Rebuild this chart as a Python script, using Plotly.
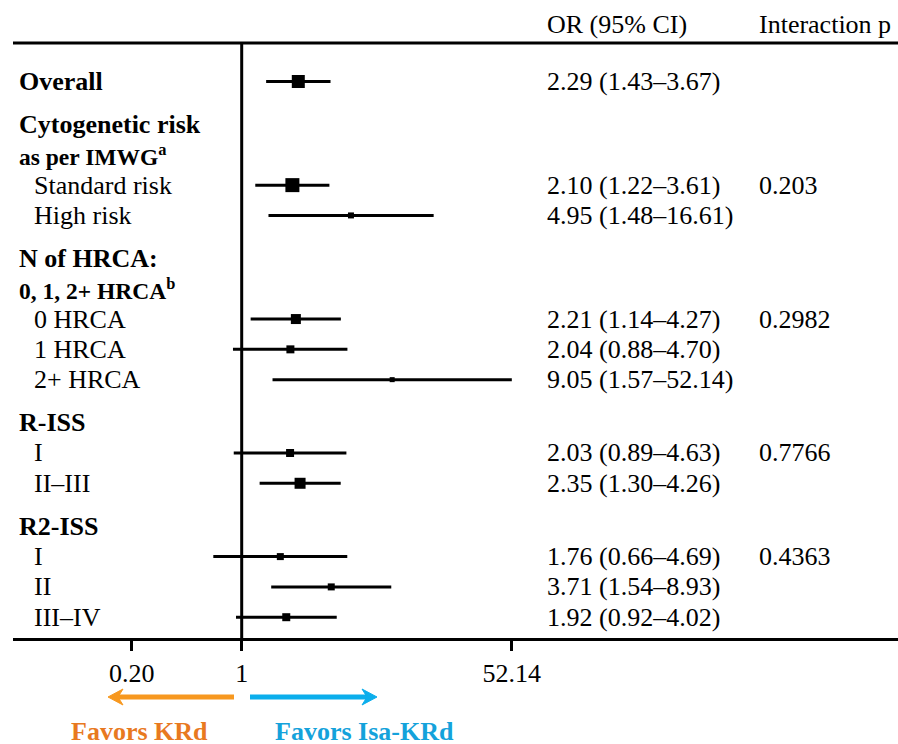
import plotly.graph_objects as go

# ---------------- data ----------------
row_labels = ["Overall", "Cytogenetic risk", "as per IMWG<sup>a</sup>", "Standard risk", "High risk",
              "N of HRCA:", "0, 1, 2+ HRCA<sup>b</sup>", "0 HRCA", "1 HRCA", "2+ HRCA",
              "R-ISS", "I", "II–III", "R2-ISS", "I", "II", "III–IV"]
row_kind = ["overall", "head", "head2", "item", "item",
            "head", "head2", "item", "item", "item",
            "head", "item", "item", "head", "item", "item", "item"]
or_est = [2.29, None, None, 2.10, 4.95, None, None, 2.21, 2.04, 9.05,
          None, 2.03, 2.35, None, 1.76, 3.71, 1.92]
ci_low = [1.43, None, None, 1.22, 1.48, None, None, 1.14, 0.88, 1.57,
          None, 0.89, 1.30, None, 0.66, 1.54, 0.92]
ci_high = [3.67, None, None, 3.61, 16.61, None, None, 4.27, 4.70, 52.14,
           None, 4.63, 4.26, None, 4.69, 8.93, 4.02]
p_interaction = ["", "", "", "0.203", "", "", "", "0.2982", "", "",
                 "", "0.7766", "", "", "0.4363", "", ""]
box_weight = [13, None, None, 14, 6, None, None, 10, 8, 5,
              None, 8, 11, None, 7, 7, 8]
tick_values = [0.20, 1, 52.14]
tick_text = ["0.20", "1", "52.14"]
col_headers = ["OR (95% CI)", "Interaction p"]
favors_left = "Favors KRd"
favors_right = "Favors Isa-KRd"

# ---------------- layout constants ----------------
W, H = 898, 744
FONT = "Liberation Serif"
X_ORIGIN_PX = 241.7
PX_PER_DECADE = 157.3
AXIS_LEFT_PX = 13
FIRST_ROW_PX = 81.5
ROW_PX = 30.3
HEADER_GAP = 0.42
AXIS_PX = 638
TOP_LINE_PX = 43
PAD = 3  # annotation inner padding

x_range = [(AXIS_LEFT_PX - X_ORIGIN_PX) / PX_PER_DECADE, (W - X_ORIGIN_PX) / PX_PER_DECADE]
y_range = [(AXIS_PX - FIRST_ROW_PX) / ROW_PX, -FIRST_ROW_PX / ROW_PX]
top_pos = (TOP_LINE_PX - FIRST_ROW_PX) / ROW_PX

pos = []
gaps = 0
for i, k in enumerate(row_kind):
    if k == "head" and i > 0:
        gaps += 1
    pos.append(i + gaps * HEADER_GAP)


def px(x):
    return x / W


def py(y):
    return 1 - y / H


fig = go.Figure()

# reference line at OR = 1
fig.add_trace(go.Scatter(x=[1, 1], y=[top_pos, y_range[0]], mode="lines",
                         line=dict(color="black", width=3), hoverinfo="skip", showlegend=False))

# CI lines
lx, ly = [], []
for e, lo, hi, p in zip(or_est, ci_low, ci_high, pos):
    if e is None:
        continue
    lx += [lo, hi, None]
    ly += [p, p, None]
fig.add_trace(go.Scatter(x=lx, y=ly, mode="lines", line=dict(color="black", width=3),
                         hoverinfo="skip", showlegend=False))

# point estimates
mx = [e for e in or_est if e is not None]
my = [p for e, p in zip(or_est, pos) if e is not None]
ms = [s for e, s in zip(or_est, box_weight) if e is not None]
fig.add_trace(go.Scatter(x=mx, y=my, mode="markers", opacity=1,
                         marker=dict(symbol="square", size=ms, color="#000000", opacity=1,
                                     line=dict(width=0, color="#000000")),
                         showlegend=False))

ann = []
# column headers
for txt, xc in zip(col_headers, [548, 760]):
    ann.append(dict(text=txt, x=px(xc - PAD), y=py(25), xref="paper", yref="paper",
                    xanchor="left", yanchor="middle", showarrow=False,
                    font=dict(family=FONT, size=26, color="black")))

for lab, k, p, e, lo, hi, pv in zip(row_labels, row_kind, pos, or_est, ci_low, ci_high, p_interaction):
    if k in ("overall", "head"):
        txt, xs, fs = f"<b>{lab}</b>", 20, 26
    elif k == "head2":
        txt, xs, fs = f"<b>{lab}</b>", 20, 23.5
    else:
        txt, xs, fs = lab, 35, 26
    ann.append(dict(text=txt, x=px(xs - PAD), y=p, xref="paper", yref="y", xanchor="left", yanchor="middle",
                    showarrow=False, font=dict(family=FONT, size=fs, color="black")))
    if e is not None:
        ann.append(dict(text=f"{e:.2f} ({lo:.2f}–{hi:.2f})", x=px(548 - PAD), y=p, xref="paper", yref="y",
                        xanchor="left", yanchor="middle", showarrow=False,
                        font=dict(family=FONT, size=26, color="black")))
    if pv:
        ann.append(dict(text=pv, x=px(760 - PAD), y=p, xref="paper", yref="y", xanchor="left",
                        yanchor="middle", showarrow=False, font=dict(family=FONT, size=26, color="black")))

# favors labels
ann.append(dict(text=f"<b>{favors_left}</b>", x=px(139), y=py(731), xref="paper", yref="paper",
                xanchor="center", yanchor="middle", showarrow=False, height=24,
                font=dict(family=FONT, size=26, color="#E8791F")))
ann.append(dict(text=f"<b>{favors_right}</b>", x=px(364), y=py(731), xref="paper", yref="paper",
                xanchor="center", yanchor="middle", showarrow=False, height=24,
                font=dict(family=FONT, size=26, color="#14A2DB")))

# direction arrows (shapes)
ARROW_Y = 697
HEAD_L, HEAD_H, NOTCH = 15, 8, 5
shapes = [dict(type="line", xref="paper", yref="paper", x0=px(AXIS_LEFT_PX), x1=1,
               y0=py(TOP_LINE_PX), y1=py(TOP_LINE_PX), line=dict(color="black", width=3))]
for tail, tip, col in [(234, 108, "#F7981F"), (250, 377, "#0BAEEC")]:
    d = 1 if tip > tail else -1
    base = tip - d * (HEAD_L - NOTCH)
    shapes.append(dict(type="line", xref="paper", yref="paper", x0=px(tail), x1=px(base),
                       y0=py(ARROW_Y), y1=py(ARROW_Y), line=dict(color=col, width=5)))
    path = (f"M {px(tip)},{py(ARROW_Y)} "
            f"L {px(tip - d * HEAD_L)},{py(ARROW_Y - HEAD_H)} "
            f"L {px(tip - d * (HEAD_L - NOTCH))},{py(ARROW_Y)} "
            f"L {px(tip - d * HEAD_L)},{py(ARROW_Y + HEAD_H)} Z")
    shapes.append(dict(type="path", xref="paper", yref="paper", path=path,
                       fillcolor=col, line=dict(color=col, width=1)))

fig.update_layout(
    width=W, height=H, margin=dict(l=0, r=0, t=0, b=0),
    paper_bgcolor="white", plot_bgcolor="white",
    annotations=ann, shapes=shapes,
    xaxis=dict(type="log", range=x_range, domain=[AXIS_LEFT_PX / W, 1],
               tickvals=tick_values, ticktext=tick_text, ticks="outside", ticklen=10, tickwidth=3,
               tickcolor="black", showline=True, linewidth=3, linecolor="black",
               showgrid=False, zeroline=False,
               tickfont=dict(family=FONT, size=26, color="black")),
    yaxis=dict(range=y_range, domain=[1 - AXIS_PX / H, 1], visible=False),
    showlegend=False,
)

fig.write_html("out.html")
